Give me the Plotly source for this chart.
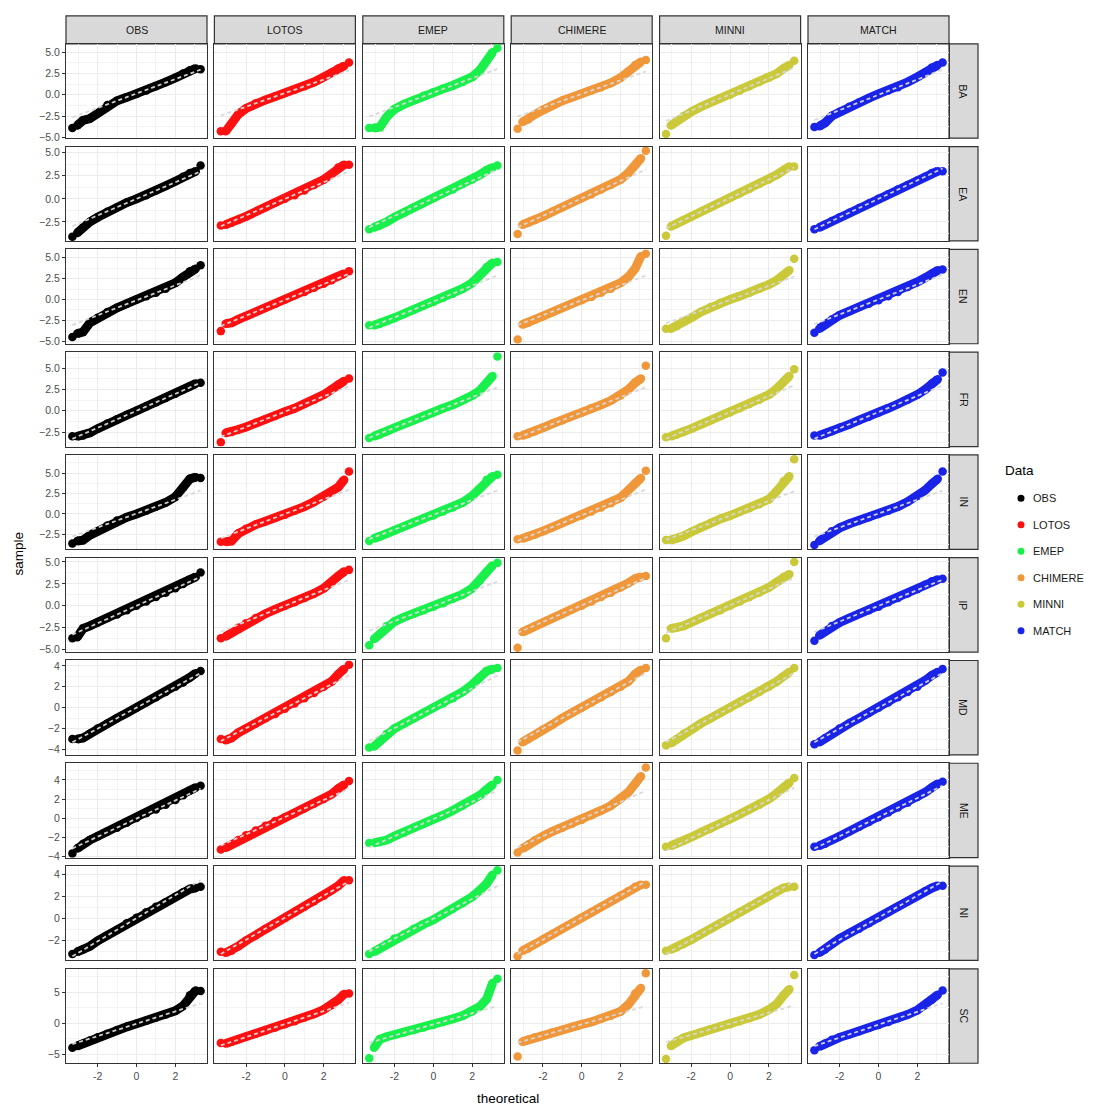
import plotly.graph_objects as go

# ---------------- data ----------------
MODELS = ["OBS", "LOTOS", "EMEP", "CHIMERE", "MINNI", "MATCH"]
REGIONS = ["BA", "EA", "EN", "FR", "IN", "IP", "MD", "ME", "NI", "SC"]
COLORS = ["#000000", "#FF1010", "#19F04B", "#F0973A", "#C9C93A", "#1A24E8"]

# theoretical normal quantiles at which sample quantiles were read
THEORETICAL = [-3.3, -3.05, -2.75, -2.4, -2.0, -1.5, -1.0, -0.5, 0.0,
               0.5, 1.0, 1.5, 2.0, 2.4, 2.75, 3.05, 3.3]

# sample quantiles per region, one list per model (OBS, LOTOS, EMEP, CHIMERE, MINNI, MATCH)
BA = [
    [-3.9, -3.6, -3.0, -2.8, -2.2, -1.2, -0.7, -0.3, 0.1, 0.5, 1.0, 1.5, 2.0, 2.5, 2.9, 3.1, 3.0],
    [-4.3, -4.3, -3.4, -2.3, -1.6, -1.0, -0.6, -0.2, 0.2, 0.6, 1.0, 1.5, 2.1, 2.6, 3.1, 3.4, 3.8],
    [-3.9, -3.9, -3.8, -2.6, -1.7, -1.1, -0.6, -0.1, 0.3, 0.7, 1.1, 1.5, 2.1, 2.9, 4.0, 5.0, 5.5],
    [-4.0, -3.2, -2.9, -2.3, -1.8, -1.2, -0.7, -0.3, 0.1, 0.5, 0.9, 1.4, 2.0, 2.7, 3.5, 3.9, 4.1],
    [-4.6, -3.6, -3.1, -2.5, -2.0, -1.4, -0.9, -0.4, 0.0, 0.5, 1.0, 1.5, 2.0, 2.5, 3.1, 3.5, 4.0],
    [-3.8, -3.7, -3.3, -2.5, -2.0, -1.4, -0.9, -0.4, 0.1, 0.5, 0.9, 1.5, 2.1, 2.6, 3.2, 3.5, 3.8],
]
EA = [
    [-4.1, -3.7, -3.1, -2.5, -2.0, -1.4, -0.9, -0.4, 0.0, 0.4, 0.9, 1.4, 1.9, 2.4, 2.8, 3.0, 3.6],
    [-2.9, -2.8, -2.6, -2.3, -1.9, -1.4, -0.9, -0.4, 0.0, 0.4, 0.9, 1.5, 2.1, 2.7, 3.4, 3.7, 3.7],
    [-3.3, -3.1, -2.9, -2.5, -2.0, -1.5, -0.9, -0.4, 0.1, 0.6, 1.0, 1.6, 2.1, 2.6, 3.1, 3.4, 3.6],
    [-3.8, -2.8, -2.6, -2.3, -1.9, -1.4, -0.9, -0.4, 0.1, 0.5, 1.0, 1.5, 2.1, 2.8, 3.6, 4.4, 5.2],
    [-4.0, -3.0, -2.7, -2.3, -1.9, -1.4, -0.9, -0.4, 0.1, 0.6, 1.1, 1.6, 2.1, 2.6, 3.1, 3.5, 3.5],
    [-3.3, -3.1, -2.8, -2.4, -2.0, -1.5, -1.0, -0.5, 0.0, 0.5, 1.0, 1.5, 2.0, 2.4, 2.8, 3.0, 3.0],
]
EN = [
    [-4.5, -4.1, -3.9, -2.8, -2.2, -1.5, -1.0, -0.5, 0.0, 0.4, 0.8, 1.3, 2.0, 2.7, 3.4, 3.7, 4.1],
    [-3.8, -2.9, -2.8, -2.4, -2.0, -1.5, -1.0, -0.5, 0.0, 0.5, 0.9, 1.4, 1.9, 2.3, 2.8, 3.1, 3.4],
    [-3.1, -3.1, -2.9, -2.6, -2.2, -1.7, -1.2, -0.7, -0.3, 0.2, 0.7, 1.3, 2.0, 2.9, 3.9, 4.4, 4.5],
    [-4.8, -3.0, -2.8, -2.4, -2.0, -1.5, -1.0, -0.5, -0.1, 0.3, 0.8, 1.3, 2.0, 2.7, 3.7, 5.2, 5.5],
    [-3.5, -3.5, -3.2, -2.7, -2.2, -1.5, -0.9, -0.4, 0.0, 0.4, 0.8, 1.3, 1.8, 2.3, 2.9, 3.5, 4.9],
    [-4.0, -3.5, -3.0, -2.4, -1.9, -1.4, -0.9, -0.5, -0.1, 0.4, 0.9, 1.5, 2.1, 2.6, 3.1, 3.5, 3.6],
]
FR = [
    [-3.0, -3.0, -2.9, -2.6, -2.1, -1.5, -1.0, -0.5, 0.0, 0.5, 1.0, 1.5, 2.0, 2.5, 2.9, 3.2, 3.3],
    [-3.7, -2.6, -2.5, -2.2, -1.9, -1.4, -1.0, -0.6, -0.1, 0.3, 0.8, 1.3, 1.9, 2.5, 3.1, 3.5, 3.8],
    [-3.2, -3.0, -2.8, -2.4, -2.0, -1.5, -1.1, -0.6, -0.2, 0.3, 0.7, 1.2, 1.8, 2.4, 3.3, 4.1, 6.4],
    [-3.0, -2.9, -2.7, -2.4, -2.0, -1.5, -1.1, -0.6, -0.2, 0.3, 0.7, 1.2, 1.8, 2.5, 3.3, 3.8, 5.3],
    [-3.1, -3.0, -2.8, -2.5, -2.1, -1.6, -1.1, -0.6, -0.2, 0.3, 0.8, 1.3, 1.9, 2.6, 3.4, 4.1, 4.9],
    [-2.9, -2.9, -2.7, -2.4, -2.0, -1.6, -1.1, -0.7, -0.2, 0.3, 0.8, 1.3, 1.9, 2.5, 3.2, 3.7, 4.5],
]
IN = [
    [-3.6, -3.3, -3.2, -2.6, -2.1, -1.4, -0.8, -0.4, 0.0, 0.4, 0.9, 1.4, 2.1, 3.2, 4.3, 4.5, 4.4],
    [-3.4, -3.4, -3.3, -2.4, -1.8, -1.3, -0.9, -0.5, -0.1, 0.4, 0.9, 1.5, 2.1, 2.7, 3.3, 4.2, 5.2],
    [-3.3, -3.0, -2.8, -2.4, -2.0, -1.5, -1.0, -0.6, -0.2, 0.3, 0.8, 1.4, 2.2, 3.1, 4.2, 4.6, 4.8],
    [-3.1, -3.0, -2.8, -2.5, -2.1, -1.6, -1.1, -0.6, -0.2, 0.3, 0.8, 1.3, 2.0, 2.9, 3.8, 4.4, 5.3],
    [-3.2, -3.2, -3.0, -2.7, -2.2, -1.6, -1.1, -0.6, -0.2, 0.3, 0.7, 1.2, 1.8, 2.8, 4.0, 4.6, 6.7],
    [-3.8, -3.3, -2.8, -2.1, -1.7, -1.2, -0.8, -0.4, 0.0, 0.4, 0.9, 1.5, 2.2, 2.9, 3.7, 4.3, 5.2],
]
IP = [
    [-3.7, -3.6, -2.6, -2.3, -1.9, -1.4, -1.0, -0.5, 0.0, 0.5, 1.0, 1.5, 2.0, 2.5, 3.0, 3.3, 3.8],
    [-3.7, -3.5, -3.1, -2.5, -2.0, -1.4, -0.9, -0.4, 0.0, 0.4, 0.9, 1.4, 2.0, 2.6, 3.4, 3.9, 4.1],
    [-4.5, -3.8, -3.2, -2.3, -1.8, -1.3, -0.9, -0.5, -0.1, 0.3, 0.8, 1.3, 2.0, 2.9, 3.9, 4.6, 4.9],
    [-4.8, -3.0, -2.7, -2.3, -1.9, -1.4, -0.9, -0.4, 0.0, 0.5, 1.0, 1.5, 2.1, 2.6, 3.1, 3.3, 3.4],
    [-3.7, -2.6, -2.5, -2.3, -1.9, -1.4, -0.9, -0.5, 0.0, 0.5, 1.0, 1.5, 2.1, 2.7, 3.3, 3.6, 5.0],
    [-4.0, -3.4, -2.9, -2.3, -1.9, -1.4, -0.9, -0.5, -0.1, 0.4, 0.9, 1.4, 1.9, 2.4, 2.8, 3.0, 3.1],
]
MD = [
    [-3.0, -3.0, -2.9, -2.5, -2.0, -1.5, -1.0, -0.5, 0.0, 0.5, 1.0, 1.5, 2.0, 2.4, 2.9, 3.3, 3.5],
    [-3.0, -3.1, -2.9, -2.4, -2.0, -1.5, -1.0, -0.6, -0.1, 0.4, 0.9, 1.4, 2.0, 2.5, 3.2, 3.7, 4.1],
    [-3.8, -3.7, -3.2, -2.5, -2.0, -1.5, -1.0, -0.5, 0.0, 0.4, 0.9, 1.5, 2.2, 2.9, 3.5, 3.7, 3.8],
    [-4.1, -3.3, -3.0, -2.6, -2.1, -1.6, -1.0, -0.5, 0.0, 0.5, 1.0, 1.5, 2.0, 2.5, 3.2, 3.6, 3.8],
    [-3.6, -3.4, -3.0, -2.5, -2.1, -1.5, -1.0, -0.5, 0.0, 0.5, 1.0, 1.5, 2.0, 2.5, 3.0, 3.4, 3.8],
    [-3.5, -3.3, -2.9, -2.5, -2.0, -1.5, -1.0, -0.5, 0.0, 0.5, 1.0, 1.5, 2.0, 2.6, 3.1, 3.4, 3.7],
]
ME = [
    [-3.7, -3.2, -2.7, -2.3, -1.9, -1.4, -1.0, -0.5, 0.0, 0.5, 0.9, 1.4, 1.9, 2.4, 2.9, 3.2, 3.4],
    [-3.3, -3.1, -2.8, -2.3, -1.8, -1.3, -0.8, -0.3, 0.1, 0.5, 1.0, 1.5, 2.0, 2.5, 3.1, 3.5, 3.9],
    [-2.6, -2.6, -2.5, -2.3, -1.9, -1.5, -1.0, -0.6, -0.1, 0.3, 0.8, 1.3, 1.9, 2.4, 3.0, 3.5, 4.0],
    [-3.6, -3.2, -2.8, -2.3, -1.9, -1.4, -1.0, -0.6, -0.2, 0.3, 0.8, 1.3, 2.0, 2.7, 3.6, 4.4, 5.3],
    [-3.0, -2.9, -2.7, -2.4, -2.0, -1.5, -1.1, -0.6, -0.1, 0.4, 0.9, 1.4, 2.0, 2.6, 3.2, 3.7, 4.2],
    [-3.0, -2.9, -2.7, -2.3, -1.9, -1.4, -0.9, -0.4, 0.1, 0.6, 1.1, 1.6, 2.2, 2.7, 3.2, 3.6, 3.8],
]
NI = [
    [-3.2, -3.0, -2.8, -2.5, -2.0, -1.5, -1.0, -0.4, 0.1, 0.6, 1.1, 1.5, 2.0, 2.4, 2.7, 2.8, 2.9],
    [-3.0, -3.1, -2.9, -2.5, -2.0, -1.5, -0.9, -0.4, 0.1, 0.6, 1.1, 1.6, 2.1, 2.6, 3.0, 3.5, 3.5],
    [-3.2, -3.0, -2.7, -2.3, -1.8, -1.4, -0.9, -0.5, -0.1, 0.4, 0.9, 1.4, 2.0, 2.6, 3.2, 4.0, 4.4],
    [-3.4, -2.9, -2.7, -2.3, -1.9, -1.4, -0.9, -0.4, 0.1, 0.6, 1.1, 1.6, 2.1, 2.5, 2.9, 3.1, 3.1],
    [-2.9, -2.8, -2.6, -2.3, -1.9, -1.4, -0.9, -0.4, 0.1, 0.6, 1.1, 1.6, 2.1, 2.5, 2.8, 2.9, 2.9],
    [-3.3, -3.1, -2.8, -2.3, -1.8, -1.3, -0.9, -0.4, 0.1, 0.6, 1.1, 1.6, 2.1, 2.5, 2.8, 3.0, 3.0],
]
SC = [
    [-4.0, -3.7, -3.3, -2.8, -2.3, -1.7, -1.1, -0.6, -0.1, 0.4, 0.9, 1.4, 2.0, 2.8, 4.5, 5.3, 5.2],
    [-3.2, -3.3, -3.0, -2.6, -2.2, -1.7, -1.2, -0.7, -0.2, 0.3, 0.9, 1.5, 2.2, 2.9, 3.8, 4.7, 4.8],
    [-5.7, -4.0, -2.6, -2.2, -1.9, -1.5, -1.1, -0.7, -0.3, 0.2, 0.7, 1.2, 1.9, 2.7, 3.9, 6.5, 7.2],
    [-5.4, -3.0, -2.7, -2.3, -2.0, -1.5, -1.1, -0.6, -0.2, 0.2, 0.7, 1.2, 1.9, 3.0, 4.8, 5.7, 8.1],
    [-5.8, -3.7, -2.9, -2.4, -2.0, -1.5, -1.0, -0.6, -0.2, 0.3, 0.8, 1.4, 2.2, 3.1, 4.5, 5.5, 7.8],
    [-4.4, -3.8, -3.3, -2.7, -2.3, -1.8, -1.3, -0.8, -0.3, 0.2, 0.8, 1.4, 2.1, 2.9, 3.8, 4.6, 5.3],
]
SAMPLES = [BA, EA, EN, FR, IN, IP, MD, ME, NI, SC]
Y_TICK_STEP = [2.5, 2.5, 2.5, 2.5, 2.5, 2.5, 2, 2, 2, 5]
X_TICKS = [-2, 0, 2]

# ---------------- geometry ----------------
OFF = 8  # page body margin
W, H = 1098 - OFF, 1111 - OFF
FONT = "Liberation Sans, Arial, Helvetica, sans-serif"
PX0, PW, PGX = 66.0, 141.0, 7.4
PY0, PH, PGY = 42.0, 95.0, 8.44
STRIP = 28.0


def fx(px):
    return (px - OFF) / W


def fy(py):
    return 1 - (py - OFF) / H


fig = go.Figure()
layout = dict(
    width=W, height=H,
    margin=dict(l=0, r=0, t=0, b=0),
    paper_bgcolor="white", plot_bgcolor="white",
    showlegend=False,
    font=dict(family=FONT, size=10, color="#4d4d4d"),
)
shapes, annotations = [], []

xmin, xmax = min(THEORETICAL), max(THEORETICAL)
xpad = 0.05 * (xmax - xmin)
xrange_ = [xmin - xpad, xmax + xpad]

i_neg1 = THEORETICAL.index(-1.0)
i_pos1 = THEORETICAL.index(1.0)

nrow, ncol = len(REGIONS), len(MODELS)
for r, region in enumerate(REGIONS):
    allv = [v for s in SAMPLES[r] for v in s]
    lo, hi = min(allv), max(allv)
    pad = 0.05 * (hi - lo)
    yrange_ = [lo - pad, hi + pad]
    step = Y_TICK_STEP[r]
    y0p = PY0 + r * (PH + PGY)
    y1p = y0p + PH
    for c, model in enumerate(MODELS):
        k = r * ncol + c + 1
        sfx = "" if k == 1 else str(k)
        x0p = PX0 + c * (PW + PGX)
        x1p = x0p + PW
        ys = SAMPLES[r][c]
        col = COLORS[c]
        # dense band of points
        fig.add_trace(go.Scatter(
            x=THEORETICAL[1:-1], y=ys[1:-1], mode="lines",
            line=dict(color=col, width=9),
            xaxis="x" + sfx, yaxis="y" + sfx, hoverinfo="skip"))
        fig.add_trace(go.Scatter(
            x=THEORETICAL, y=ys, mode="markers",
            marker=dict(color=col, size=8.5, line=dict(width=0)),
            xaxis="x" + sfx, yaxis="y" + sfx))
        # qq reference line through the +-1 quantiles
        slope = (ys[i_pos1] - ys[i_neg1]) / 2.0
        inter = (ys[i_pos1] + ys[i_neg1]) / 2.0
        fig.add_trace(go.Scatter(
            x=[xmin, xmax], y=[inter + slope * xmin, inter + slope * xmax],
            mode="lines", line=dict(color="rgba(215,215,215,0.95)", width=1.8, dash="4px,3px"),
            xaxis="x" + sfx, yaxis="y" + sfx, hoverinfo="skip"))

        bottom = r == nrow - 1
        left = c == 0
        layout["xaxis" + sfx] = dict(
            domain=[fx(x0p), fx(x1p)], anchor="y" + sfx, range=xrange_,
            tickvals=X_TICKS, ticktext=[str(v) for v in X_TICKS],
            showticklabels=bottom, ticks="outside" if bottom else "",
            ticklen=3, tickcolor="#333333", tickfont=dict(size=10.5, color="#4d4d4d"),
            showgrid=True, gridcolor="#ebebeb", gridwidth=1,
            minor=dict(dtick=1, tick0=1, showgrid=True, gridcolor="#f3f3f3", gridwidth=1),
            zeroline=False, showline=True, mirror=True, linecolor="#333333", linewidth=1.2,
        )
        layout["yaxis" + sfx] = dict(
            domain=[fy(y1p), fy(y0p)], anchor="x" + sfx, range=yrange_,
            tick0=0, dtick=step, tickformat=".1f" if step == 2.5 else "d",
            showticklabels=left, ticks="outside" if left else "",
            ticklen=3, tickcolor="#333333", tickfont=dict(size=10.5, color="#4d4d4d"),
            showgrid=True, gridcolor="#ebebeb", gridwidth=1,
            minor=dict(dtick=step / 2.0, tick0=0, showgrid=True, gridcolor="#f3f3f3", gridwidth=1),
            zeroline=False, showline=True, mirror=True, linecolor="#333333", linewidth=1.2,
        )

        if r == 0:
            shapes.append(dict(type="rect", xref="paper", yref="paper",
                               x0=fx(x0p), x1=fx(x1p), y0=fy(y0p), y1=fy(y0p - STRIP),
                               fillcolor="#d9d9d9", line=dict(color="#333333", width=1.2),
                               layer="below"))
            annotations.append(dict(text=model, xref="paper", yref="paper",
                                    x=fx((x0p + x1p) / 2), y=fy(y0p - STRIP / 2),
                                    xanchor="center", yanchor="middle",
                                    showarrow=False, font=dict(size=10.5, color="#1a1a1a", family=FONT)))
        if c == ncol - 1:
            shapes.append(dict(type="rect", xref="paper", yref="paper",
                               x0=fx(x1p), x1=fx(x1p + 29), y0=fy(y1p), y1=fy(y0p),
                               fillcolor="#d9d9d9", line=dict(color="#333333", width=1.2),
                               layer="below"))
            annotations.append(dict(text=region, xref="paper", yref="paper",
                                    x=fx(x1p + 14.5), y=fy((y0p + y1p) / 2), textangle=90,
                                    xanchor="center", yanchor="middle",
                                    showarrow=False, font=dict(size=10.5, color="#1a1a1a", family=FONT)))

# axis titles
last_bottom = PY0 + nrow * PH + (nrow - 1) * PGY
right_edge = PX0 + ncol * PW + (ncol - 1) * PGX
annotations.append(dict(text="theoretical", xref="paper", yref="paper",
                        x=fx((PX0 + right_edge) / 2), y=fy(last_bottom + 35),
                        xanchor="center", yanchor="middle",
                        showarrow=False, font=dict(size=13.5, color="#000000", family=FONT)))
annotations.append(dict(text="sample", xref="paper", yref="paper",
                        x=fx(19), y=fy((PY0 + last_bottom) / 2), textangle=-90,
                        xanchor="center", yanchor="middle",
                        showarrow=False, font=dict(size=13.5, color="#000000", family=FONT)))

# legend (drawn on its own hidden axis)
k = nrow * ncol + 1
fig.add_trace(go.Scatter(
    x=[0] * len(MODELS), y=list(range(len(MODELS))), mode="markers",
    marker=dict(color=COLORS, size=7), xaxis="x%d" % k, yaxis="y%d" % k,
    hoverinfo="skip"))
layout["xaxis%d" % k] = dict(domain=[fx(1011), fx(1031)], anchor="y%d" % k,
                             range=[-1, 1], visible=False)
layout["yaxis%d" % k] = dict(domain=[fy(646), fy(486)], anchor="x%d" % k,
                             range=[len(MODELS) - 0.5, -0.5], visible=False)
for i, m in enumerate(MODELS):
    annotations.append(dict(text=m, xref="x%d" % k, yref="y%d" % k, x=0, y=i,
                            xanchor="left", yanchor="middle", xshift=10, showarrow=False,
                            font=dict(size=11, color="#1a1a1a", family=FONT)))
annotations.append(dict(text="Data", xref="paper", yref="paper", x=fx(1003), y=fy(471),
                        xanchor="left", yanchor="middle", showarrow=False,
                        font=dict(size=13.5, color="#000000", family=FONT)))

layout["shapes"] = shapes
layout["annotations"] = annotations
fig.update_layout(**layout)
fig.write_html("out.html")
